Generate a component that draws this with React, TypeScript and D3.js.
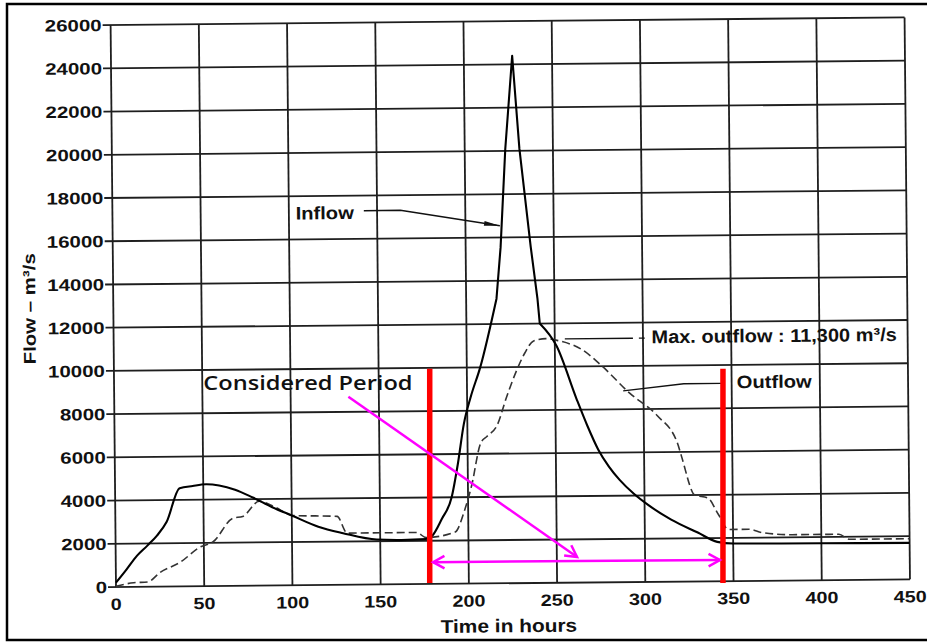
import React from "react";
import * as d3 from "d3";

// ---- data (time in hours, flow in m3/s) ----
const timeTicks = [0, 50, 100, 150, 200, 250, 300, 350, 400, 450];
const flowTicks = [0, 2000, 4000, 6000, 8000, 10000, 12000, 14000, 16000, 18000, 20000, 22000, 24000, 26000];

// inflow split into: rising limb (smooth), peak (sharp), recession (smooth)
const inflowRiseTime = [0, 6, 12, 18, 23.5, 29, 36.6, 44, 51.6, 59, 68, 78, 89, 100, 115, 129, 148, 162, 176, 179.5, 185, 190.7, 194.4, 198, 202, 207.6, 217.2];
const inflowRiseFlow = [200, 800, 1430, 1900, 2360, 2980, 4540, 4640, 4710, 4650, 4450, 4080, 3620, 3230, 2700, 2390, 2080, 2050, 2080, 2230, 3000, 4000, 5540, 7380, 8620, 10000, 13170];
const inflowPeakTime = [217.2, 219.8, 223, 227.4, 231, 236.9, 240.4, 241.6];
const inflowPeakFlow = [13170, 15540, 20100, 24400, 20100, 15540, 13170, 12000];
const inflowFallTime = [241.6, 251, 262, 268, 274, 280, 286, 294, 302, 315, 330, 341, 350, 400, 450];
const inflowFallFlow = [12000, 10950, 8500, 7250, 6150, 5350, 4730, 4080, 3560, 2870, 2260, 1820, 1740, 1710, 1690];

const outflowTime = [0, 10, 18, 25, 36.6, 47.8, 55.3, 66.6, 72.2, 81.6, 90, 100.4, 125.7, 131.3, 170.6, 176, 192.5, 198, 202, 207.5, 211, 216.8, 222.4, 228, 232.8, 238, 245, 252, 265.3, 276.7, 292, 307.6, 319, 321, 328.5, 336, 341.8, 347.5, 359, 366.5, 383.6, 410, 416, 450];
const outflowFlow = [30, 190, 220, 650, 1120, 1810, 2050, 3130, 3210, 3900, 3650, 3230, 3170, 2390, 2390, 2150, 2390, 3400, 4500, 6500, 6800, 7300, 8620, 9800, 10620, 11200, 11300, 11200, 10780, 10000, 8750, 7690, 6400, 5850, 4000, 3850, 3085, 2390, 2390, 2230, 2120, 2120, 1880, 1880];

// annotations (scan)
const inflowLabel = { t: 103.8, q: 16920, text: "Inflow" };
const inflowLeaderT = [142.5, 163.2, 219.5];
const inflowLeaderQ = [17300, 17300, 16540];
const maxLabel = { t: 304.8, q: 11040, text: "Max. outflow : 11,300 m³/s" };
const maxLeaderT = [255.7, 294.3];
const maxLeaderQ = [11280, 11280];
const maxDashT = [297.7, 301];
const outflowLabel = { t: 352.9, q: 8920, text: "Outflow" };
const outflowLeaderT = [288.5, 322.9, 344];
const outflowLeaderQ = [8850, 9150, 9150];

// overlays (added on top)
const periodT = [177.8, 344];
const periodQ = [180, 10100];
const periodLabel = { t: 49.5, q: 9115, text: "Considered Period" };
const diagArrowT = [131.7, 261.3];
const diagArrowQ = [8800, 1390];
const spanArrowT = [179.7, 342.3];
const spanArrowQ = [1150, 1250];

const W = 927, H = 642;
const x = d3.scaleLinear().domain([0, 450]).range([116, 910]);
const y = d3.scaleLinear().domain([0, 26000]).range([587, 25]);

const FONT = "'Liberation Sans', Arial, Helvetica, sans-serif";
const MAG = "#ff00ff";

function headPath(x1: number, y1: number, x2: number, y2: number, L = 13, ang = 0.5) {
  const a = Math.atan2(y2 - y1, x2 - x1);
  const w1x = x2 - L * Math.cos(a - ang), w1y = y2 - L * Math.sin(a - ang);
  const w2x = x2 - L * Math.cos(a + ang), w2y = y2 - L * Math.sin(a + ang);
  return `M${w1x},${w1y}L${x2},${y2}L${w2x},${w2y}`;
}

function SText(props: { x: number; y: number; sx: number; size: number; anchor?: string; weight?: string | number; family?: string; rotate?: number; children: React.ReactNode; dy?: string }) {
  const { x: tx, y: ty, sx, size, anchor = "start", weight = "bold", family = FONT, rotate = 0, dy } = props;
  return (
    <text
      transform={`translate(${tx},${ty}) rotate(${rotate}) scale(${sx},1)`}
      textAnchor={anchor as any}
      fontFamily={family}
      fontWeight={weight as any}
      fontSize={size}
      fill="#111"
      dy={dy}
    >
      {props.children}
    </text>
  );
}

const zip = (ts: number[], qs: number[]) => ts.map((t, i) => [t, qs[i]] as [number, number]);

export default function App() {
  const line = d3.line<[number, number]>().x((d) => x(d[0])).y((d) => y(d[1]));
  const smooth = d3.line<[number, number]>().x((d) => x(d[0])).y((d) => y(d[1])).curve(d3.curveMonotoneX);

  const inLeader = zip(inflowLeaderT, inflowLeaderQ);
  const maxLeader = zip(maxLeaderT, maxLeaderQ);
  const maxDash = maxDashT.map((t) => [t, maxLeaderQ[0]] as [number, number]);
  const outLeader = zip(outflowLeaderT, outflowLeaderQ);

  const ilx1 = x(inflowLeaderT[1]), ily1 = y(inflowLeaderQ[1]);
  const ilx2 = x(inflowLeaderT[2]), ily2 = y(inflowLeaderQ[2]);
  const ia = Math.atan2(ily2 - ily1, ilx2 - ilx1);
  const inHead = `M${ilx2},${ily2}L${ilx2 - 16 * Math.cos(ia - 0.15)},${ily2 - 16 * Math.sin(ia - 0.15)}L${ilx2 - 16 * Math.cos(ia + 0.15)},${ily2 - 16 * Math.sin(ia + 0.15)}Z`;

  const dx1 = x(diagArrowT[0]), dy1 = y(diagArrowQ[0]), dx2 = x(diagArrowT[1]), dy2 = y(diagArrowQ[1]);
  const sx1 = x(spanArrowT[0]), sy1 = y(spanArrowQ[0]), sx2 = x(spanArrowT[1]), sy2 = y(spanArrowQ[1]);

  const inflowD =
    (smooth(zip(inflowRiseTime, inflowRiseFlow)) || "") +
    (line(zip(inflowPeakTime, inflowPeakFlow)) || "").replace(/^M/, "L") +
    (smooth(zip(inflowFallTime, inflowFallFlow)) || "").replace(/^M/, "L");

  return (
    <svg width={W} height={H} style={{ position: "absolute", left: 0, top: 0, background: "#fff" }}>
      <rect x={0} y={0} width={W} height={H} fill="#fff" />
      <g transform="rotate(-0.55,116,587)">
        {/* grid */}
        {flowTicks.map((q) => (
          <line key={"h" + q} x1={x(0) - 8} x2={x(450)} y1={y(q)} y2={y(q)} stroke="#1e1e1e" strokeWidth={1.8} />
        ))}
        {timeTicks.map((t) => (
          <line key={"v" + t} x1={x(t)} x2={x(t)} y1={y(0)} y2={y(26000)} stroke="#1e1e1e" strokeWidth={1.8} />
        ))}
        {/* tick labels */}
        {flowTicks.map((q) => (
          <SText key={"yl" + q} x={x(0) - 9} y={y(q)} sx={1.24} size={16.5} anchor="end" dy="0.36em">
            {q}
          </SText>
        ))}
        {timeTicks.map((t) => (
          <SText key={"xl" + t} x={x(t)} y={y(0) + 23} sx={1.2} size={16.5} anchor="middle">
            {t}
          </SText>
        ))}
        <SText x={508.5} y={636} sx={1.13} size={18.5} anchor="middle">Time in hours</SText>
        <SText x={38} y={308} sx={1.2} size={17} anchor="middle" rotate={-90}>Flow – m³/s</SText>

        {/* series */}
        <path d={smooth(zip(outflowTime, outflowFlow)) || ""} fill="none" stroke="#333" strokeWidth={1.6} strokeDasharray="8,4" />
        <path d={inflowD} fill="none" stroke="#000" strokeWidth={2.1} strokeLinejoin="round" />

        {/* annotations */}
        <path d={line(inLeader) || ""} fill="none" stroke="#111" strokeWidth={1.5} />
        <path d={inHead} fill="#111" />
        <SText x={x(inflowLabel.t)} y={y(inflowLabel.q)} sx={1.12} size={18}>{inflowLabel.text}</SText>
        <path d={line(maxLeader) || ""} fill="none" stroke="#111" strokeWidth={1.4} />
        <path d={line(maxDash) || ""} fill="none" stroke="#111" strokeWidth={1.4} />
        <SText x={x(maxLabel.t)} y={y(maxLabel.q)} sx={1.08} size={18.5}>{maxLabel.text}</SText>
        <path d={line(outLeader) || ""} fill="none" stroke="#111" strokeWidth={1.4} />
        <SText x={x(outflowLabel.t)} y={y(outflowLabel.q)} sx={1.12} size={18}>{outflowLabel.text}</SText>
      </g>

      {/* overlays */}
      {periodT.map((t) => (
        <line key={"r" + t} x1={x(t)} x2={x(t)} y1={y(periodQ[0])} y2={y(periodQ[1])} stroke="#ff0000" strokeWidth={5.5} />
      ))}
      <SText x={x(periodLabel.t)} y={y(periodLabel.q)} sx={1.18} size={20} weight={600} family="'Open Sans', 'Noto Sans', sans-serif">
        {periodLabel.text}
      </SText>
      <line x1={dx1} y1={dy1} x2={dx2} y2={dy2} stroke={MAG} strokeWidth={2.5} />
      <path d={headPath(dx1, dy1, dx2, dy2)} fill="none" stroke={MAG} strokeWidth={2.5} />
      <line x1={sx1} y1={sy1} x2={sx2} y2={sy2} stroke={MAG} strokeWidth={2.5} />
      <path d={headPath(sx1, sy1, sx2, sy2)} fill="none" stroke={MAG} strokeWidth={2.5} />
      <path d={headPath(sx2, sy2, sx1, sy1)} fill="none" stroke={MAG} strokeWidth={2.5} />

      {/* frame */}
      <rect x={7} y={4} width={925} height={636} fill="none" stroke="#000" strokeWidth={2.5} />
    </svg>
  );
}
